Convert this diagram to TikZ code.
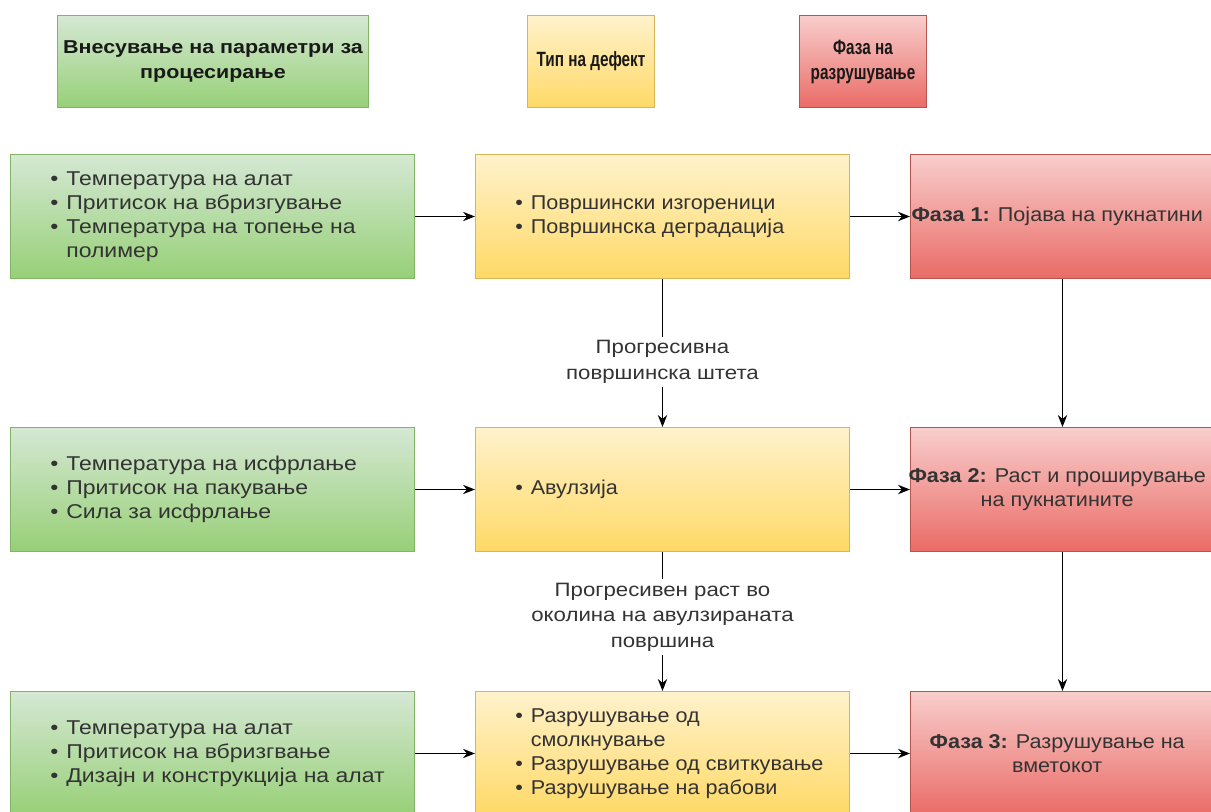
\documentclass[tikz,border=0pt]{standalone}
\usepackage{fontspec}
\setmainfont{Liberation Sans}[FakeStretch=1.15]
\newfontfamily\midfont{Liberation Sans}[FakeStretch=1.08]
\newfontfamily\headnarrow{Liberation Sans}[FakeStretch=0.74]
\usetikzlibrary{arrows.meta,positioning}

\definecolor{grtop}{HTML}{D5E8D4}
\definecolor{grbot}{HTML}{97D077}
\definecolor{grline}{HTML}{82B366}
\definecolor{yetop}{HTML}{FFF2CC}
\definecolor{yebot}{HTML}{FFD966}
\definecolor{yeline}{HTML}{D6B656}
\definecolor{retop}{HTML}{F8CECC}
\definecolor{rebot}{HTML}{EA6B66}
\definecolor{reline}{HTML}{B85450}
\definecolor{txtgray}{HTML}{333333}

\newcommand{\bul}{\textbullet}

\tikzset{
  box/.style={draw, line width=0.75pt, inner sep=0pt, anchor=north west},
  greenbox/.style={box, draw=grline, top color=grtop, bottom color=grbot, minimum width=303pt, minimum height=93pt},
  yellowbox/.style={box, draw=yeline, top color=yetop, bottom color=yebot, minimum width=280.5pt, minimum height=93pt},
  redbox/.style={box, draw=reline, top color=retop, bottom color=rebot, minimum width=228pt, minimum height=93pt},
  headbox/.style={box, minimum height=69pt, align=center, font=\fontsize{14}{18.75}\selectfont\bfseries, text=black!90},
  bodytext/.style={inner sep=0pt, anchor=west, align=left, text=txtgray, font=\fontsize{15}{18}\selectfont},
  defecttext/.style={bodytext, font=\fontsize{15}{18}\selectfont\midfont},
  phasetext/.style={inner sep=0pt, align=center, text=txtgray, xshift=-4pt, font=\fontsize{15}{18}\selectfont\midfont},
  edgelabel/.style={fill=white, inner sep=3pt, align=center, text=txtgray, font=\fontsize{14.5}{19}\selectfont},
  conn/.style={-{Stealth[length=9pt,width=7pt]}, line width=1.1pt, black}
}

\begin{document}
\begin{tikzpicture}[x=0.75pt,y=0.75pt,yscale=-1,xscale=1]
\useasboundingbox (0,0) rectangle (1211,811);
\clip (0,0) rectangle (1211,811);
\fill[white] (0,0) rectangle (1211,811);

% headers
\node[headbox, draw=grline, top color=grtop, bottom color=grbot, minimum width=233.25pt] (hparam) at (57,15) {Внесување на параметри за\\процесирање};
\node[headbox, draw=yeline, top color=yetop, bottom color=yebot, minimum width=95.25pt, font=\fontsize{15.5}{18.75}\selectfont\bfseries] (hdefect) at (527,15) {\headnarrow Тип на дефект};
\node[headbox, draw=reline, top color=retop, bottom color=rebot, minimum width=95.25pt, font=\fontsize{15.5}{18.75}\selectfont\bfseries] (hphase) at (799,15) {\headnarrow Фаза на\\\headnarrow разрушување};

% boxes
\node[greenbox] (param1) at (10,154) {};
\node[yellowbox] (defect1) at (475,154) {};
\node[redbox] (phase1) at (910,154) {};
\node[greenbox] (param2) at (10,427) {};
\node[yellowbox] (defect2) at (475,427) {};
\node[redbox] (phase2) at (910,427) {};
\node[greenbox] (param3) at (10,691) {};
\node[yellowbox] (defect3) at (475,691) {};
\node[redbox] (phase3) at (910,691) {};

% box texts
\node[bodytext, right=30pt of param1.west] (param1t) {\begin{tabular}{@{}l@{\hspace{6pt}}l@{}}
\bul & Температура на алат\\
\bul & Притисок на вбризгување\\
\bul & Температура на топење на\\
     & полимер\end{tabular}};
\node[defecttext, right=30pt of defect1.west] (defect1t) {\begin{tabular}{@{}l@{\hspace{6pt}}l@{}}
\bul & Површински изгореници\\
\bul & Површинска деградација\end{tabular}};
\node[phasetext] (phase1t) at (phase1.center) {\textbf{Фаза 1:} Појава на пукнатини};

\node[bodytext, right=30pt of param2.west] (param2t) {\begin{tabular}{@{}l@{\hspace{6pt}}l@{}}
\bul & Температура на исфрлање\\
\bul & Притисок на пакување\\
\bul & Сила за исфрлање\end{tabular}};
\node[defecttext, right=30pt of defect2.west] (defect2t) {\begin{tabular}{@{}l@{\hspace{6pt}}l@{}}
\bul & Авулзија\end{tabular}};
\node[phasetext] (phase2t) at (phase2.center) {\textbf{Фаза 2:} Раст и проширување\\на пукнатините};

\node[bodytext, right=30pt of param3.west] (param3t) {\begin{tabular}{@{}l@{\hspace{6pt}}l@{}}
\bul & Температура на алат\\
\bul & Притисок на вбризгвање\\
\bul & Дизајн и конструкција на алат\end{tabular}};
\node[defecttext, right=30pt of defect3.west] (defect3t) {\begin{tabular}{@{}l@{\hspace{6pt}}l@{}}
\bul & Разрушување од\\
     & смолкнување\\
\bul & Разрушување од свиткување\\
\bul & Разрушување на рабови\end{tabular}};
\node[phasetext] (phase3t) at (phase3.center) {\textbf{Фаза 3:} Разрушување на\\вметокот};

% connectors
\draw[conn] (param1) -- (defect1);
\draw[conn] (defect1) -- (phase1);
\draw[conn] (param2) -- (defect2);
\draw[conn] (defect2) -- (phase2);
\draw[conn] (param3) -- (defect3);
\draw[conn] (defect3) -- (phase3);
\draw[conn] (defect1) -- node[edgelabel, pos=0.56] (lbl1) {Прогресивна\\површинска штета} (defect2);
\draw[conn] (defect2) -- node[edgelabel, pos=0.47] (lbl2) {Прогресивен раст во\\околина на авулзираната\\површина} (defect3);
\draw[conn] (phase1) -- (phase2);
\draw[conn] (phase2) -- (phase3);
\end{tikzpicture}
\end{document}
